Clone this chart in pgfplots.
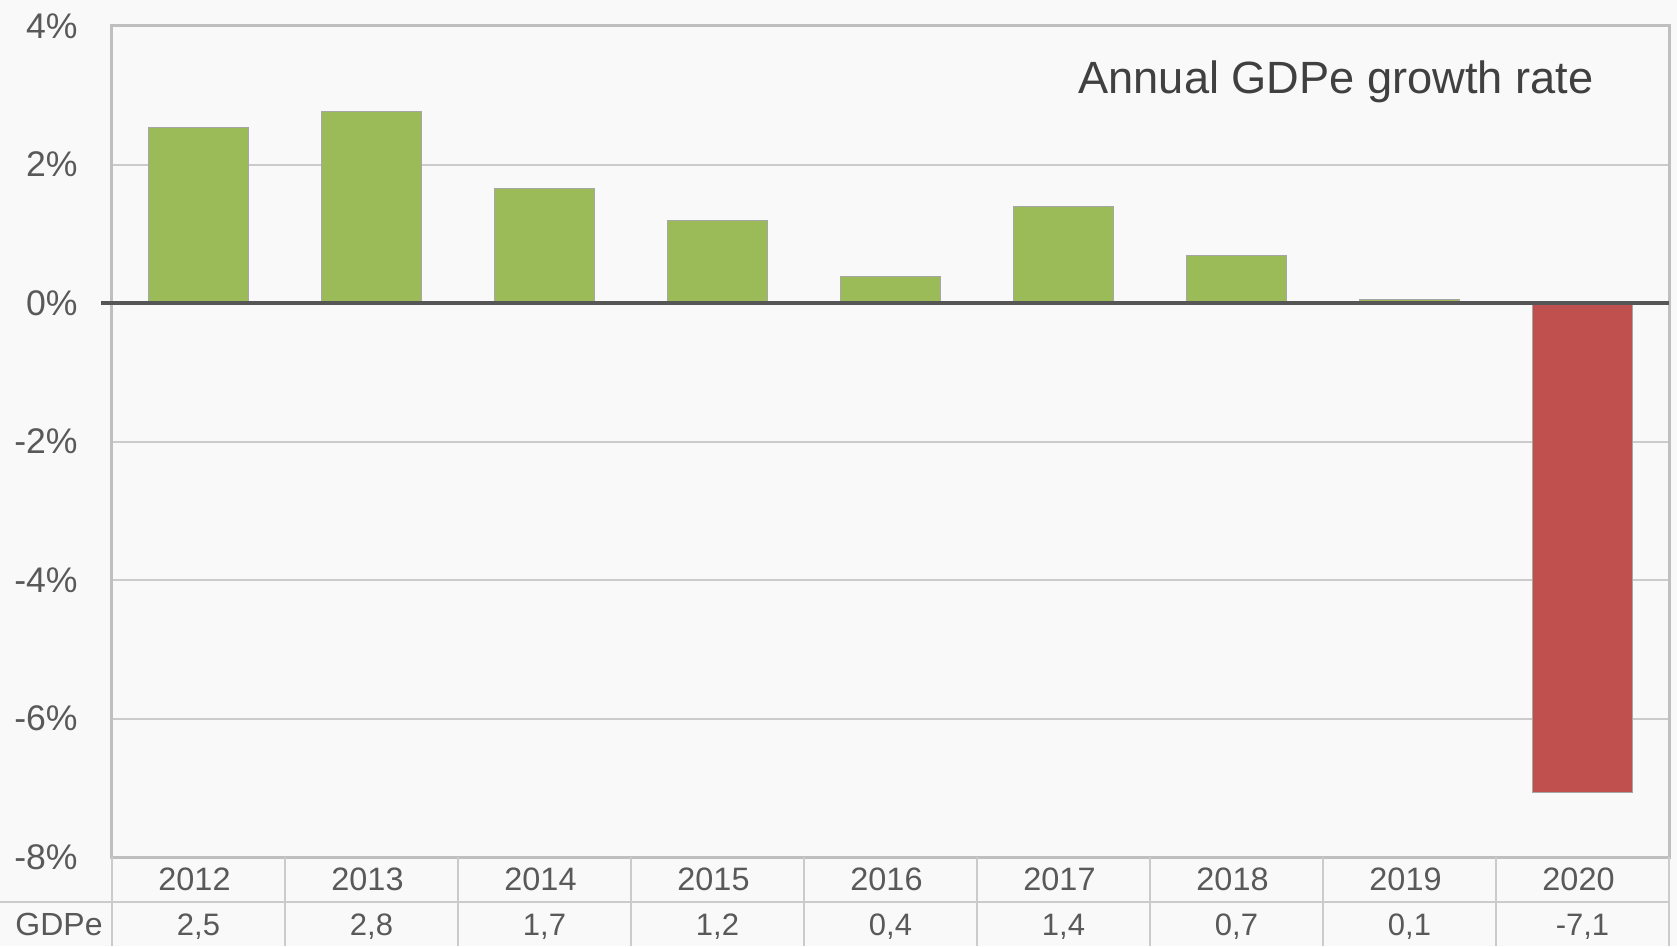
\documentclass[border=0pt]{standalone}
\usepackage{pgfplots}
\pgfplotsset{compat=1.18}
\usepackage{pgfplotstable}
\usepackage{fontspec}
\setmainfont{Liberation Sans}
\usetikzlibrary{calc,backgrounds}
\definecolor{bg}{HTML}{F9F9F9}
\definecolor{barGreen}{HTML}{9BBB59}
\definecolor{barRed}{HTML}{C0504D}
\definecolor{barEdge}{HTML}{A6A6A6}
\definecolor{gridCol}{HTML}{CBCBCB}
\definecolor{frameCol}{HTML}{BFBFBF}
\definecolor{zeroCol}{HTML}{565656}
\definecolor{txtCol}{HTML}{595959}
\definecolor{titleCol}{HTML}{404040}

\pgfplotstableread{
x y
0 2.54
1 2.77
2 1.66
3 1.19
4 0.38
5 1.39
6 0.68
7 0.05
}\greenbars
\pgfplotstableread{
x y
8 -7.07
}\redbars

\begin{document}
\begin{tikzpicture}
\begin{axis}[
  scale only axis,
  width=778.5pt, height=415.5pt,
  xmin=-0.5, xmax=8.5,
  ymin=-8, ymax=4,
  ytick={-8,-6,-4,-2,0,2,4},
  yticklabels={-8\%,-6\%,-4\%,-2\%,0\%,2\%,4\%},
  xtick={0,1,2,3,4,5,6,7,8},
  xticklabels={2012,2013,2014,2015,2016,2017,2018,2019,2020},
  major tick length=0pt,
  tick style={draw=none},
  ymajorgrids,
  major grid style={draw=gridCol, line width=1pt},
  axis line style={draw=frameCol, line width=1.5pt},
  axis background/.style={fill=bg},
  yticklabel style={font=\fontsize{17.8}{20}\selectfont, text=txtCol, anchor=east, inner sep=0pt, xshift=-17pt},
  xticklabel style={font=\fontsize{16.2}{18}\selectfont, text=txtCol, anchor=base, inner sep=0pt, yshift=-16.9pt, xshift=-2pt},
  clip=false,
]
\addplot[ybar, bar width=50.25pt, bar shift=0pt, fill=barGreen, draw=barEdge, line width=0.5pt] table[x=x,y=y] {\greenbars};
\addplot[ybar, bar width=50.25pt, bar shift=0pt, fill=barRed, draw=barEdge, line width=0.5pt] table[x=x,y=y] {\redbars};
\draw[zeroCol, line width=2.2pt] ([xshift=-5.5pt]axis cs:-0.5,0) -- (axis cs:8.5,0);
\coordinate (SW) at (rel axis cs:0,0);
\coordinate (NE) at (rel axis cs:1,1);
% table lines
\draw[gridCol, line width=1pt] ([xshift=-56pt, yshift=-22.5pt]rel axis cs:0,0) -- ([yshift=-22.5pt]rel axis cs:1,0);
\pgfplotsinvokeforeach{-0.5,0.5,1.5,2.5,3.5,4.5,5.5,6.5,7.5,8.5}{
  \draw[gridCol, line width=1pt] (axis cs:#1,-8) -- ([yshift=-44.5pt]axis cs:#1,-8);
}
\node[anchor=base east, inner sep=0pt, font=\fontsize{16}{18}\selectfont, text=txtCol] at ([xshift=-4.5pt, yshift=-39pt]rel axis cs:0,0) {GDPe};
\node[anchor=base, inner sep=0pt, font=\fontsize{15.5}{18}\selectfont, text=txtCol] at ([yshift=-39pt]axis cs:0,-8) {2,5};
\node[anchor=base, inner sep=0pt, font=\fontsize{15.5}{18}\selectfont, text=txtCol] at ([yshift=-39pt]axis cs:1,-8) {2,8};
\node[anchor=base, inner sep=0pt, font=\fontsize{15.5}{18}\selectfont, text=txtCol] at ([yshift=-39pt]axis cs:2,-8) {1,7};
\node[anchor=base, inner sep=0pt, font=\fontsize{15.5}{18}\selectfont, text=txtCol] at ([yshift=-39pt]axis cs:3,-8) {1,2};
\node[anchor=base, inner sep=0pt, font=\fontsize{15.5}{18}\selectfont, text=txtCol] at ([yshift=-39pt]axis cs:4,-8) {0,4};
\node[anchor=base, inner sep=0pt, font=\fontsize{15.5}{18}\selectfont, text=txtCol] at ([yshift=-39pt]axis cs:5,-8) {1,4};
\node[anchor=base, inner sep=0pt, font=\fontsize{15.5}{18}\selectfont, text=txtCol] at ([yshift=-39pt]axis cs:6,-8) {0,7};
\node[anchor=base, inner sep=0pt, font=\fontsize{15.5}{18}\selectfont, text=txtCol] at ([yshift=-39pt]axis cs:7,-8) {0,1};
\node[anchor=base, inner sep=0pt, font=\fontsize{15.5}{18}\selectfont, text=txtCol] at ([yshift=-39pt]axis cs:8,-8) {-7,1};
\node[anchor=base east, inner sep=0pt, font=\fontsize{22.6}{26}\selectfont, text=titleCol] at ([xshift=-37.5pt, yshift=-34pt]rel axis cs:1,1) {Annual GDPe growth rate};
\end{axis}
\begin{scope}[on background layer]
\fill[bg] ($(SW)+(-56pt,-44.5pt)$) rectangle ($(NE)+(4pt,13pt)$);
\end{scope}
\pgfresetboundingbox
\path[use as bounding box] ($(SW)+(-56pt,-44.5pt)$) rectangle ($(NE)+(4pt,13pt)$);
\end{tikzpicture}
\end{document}
